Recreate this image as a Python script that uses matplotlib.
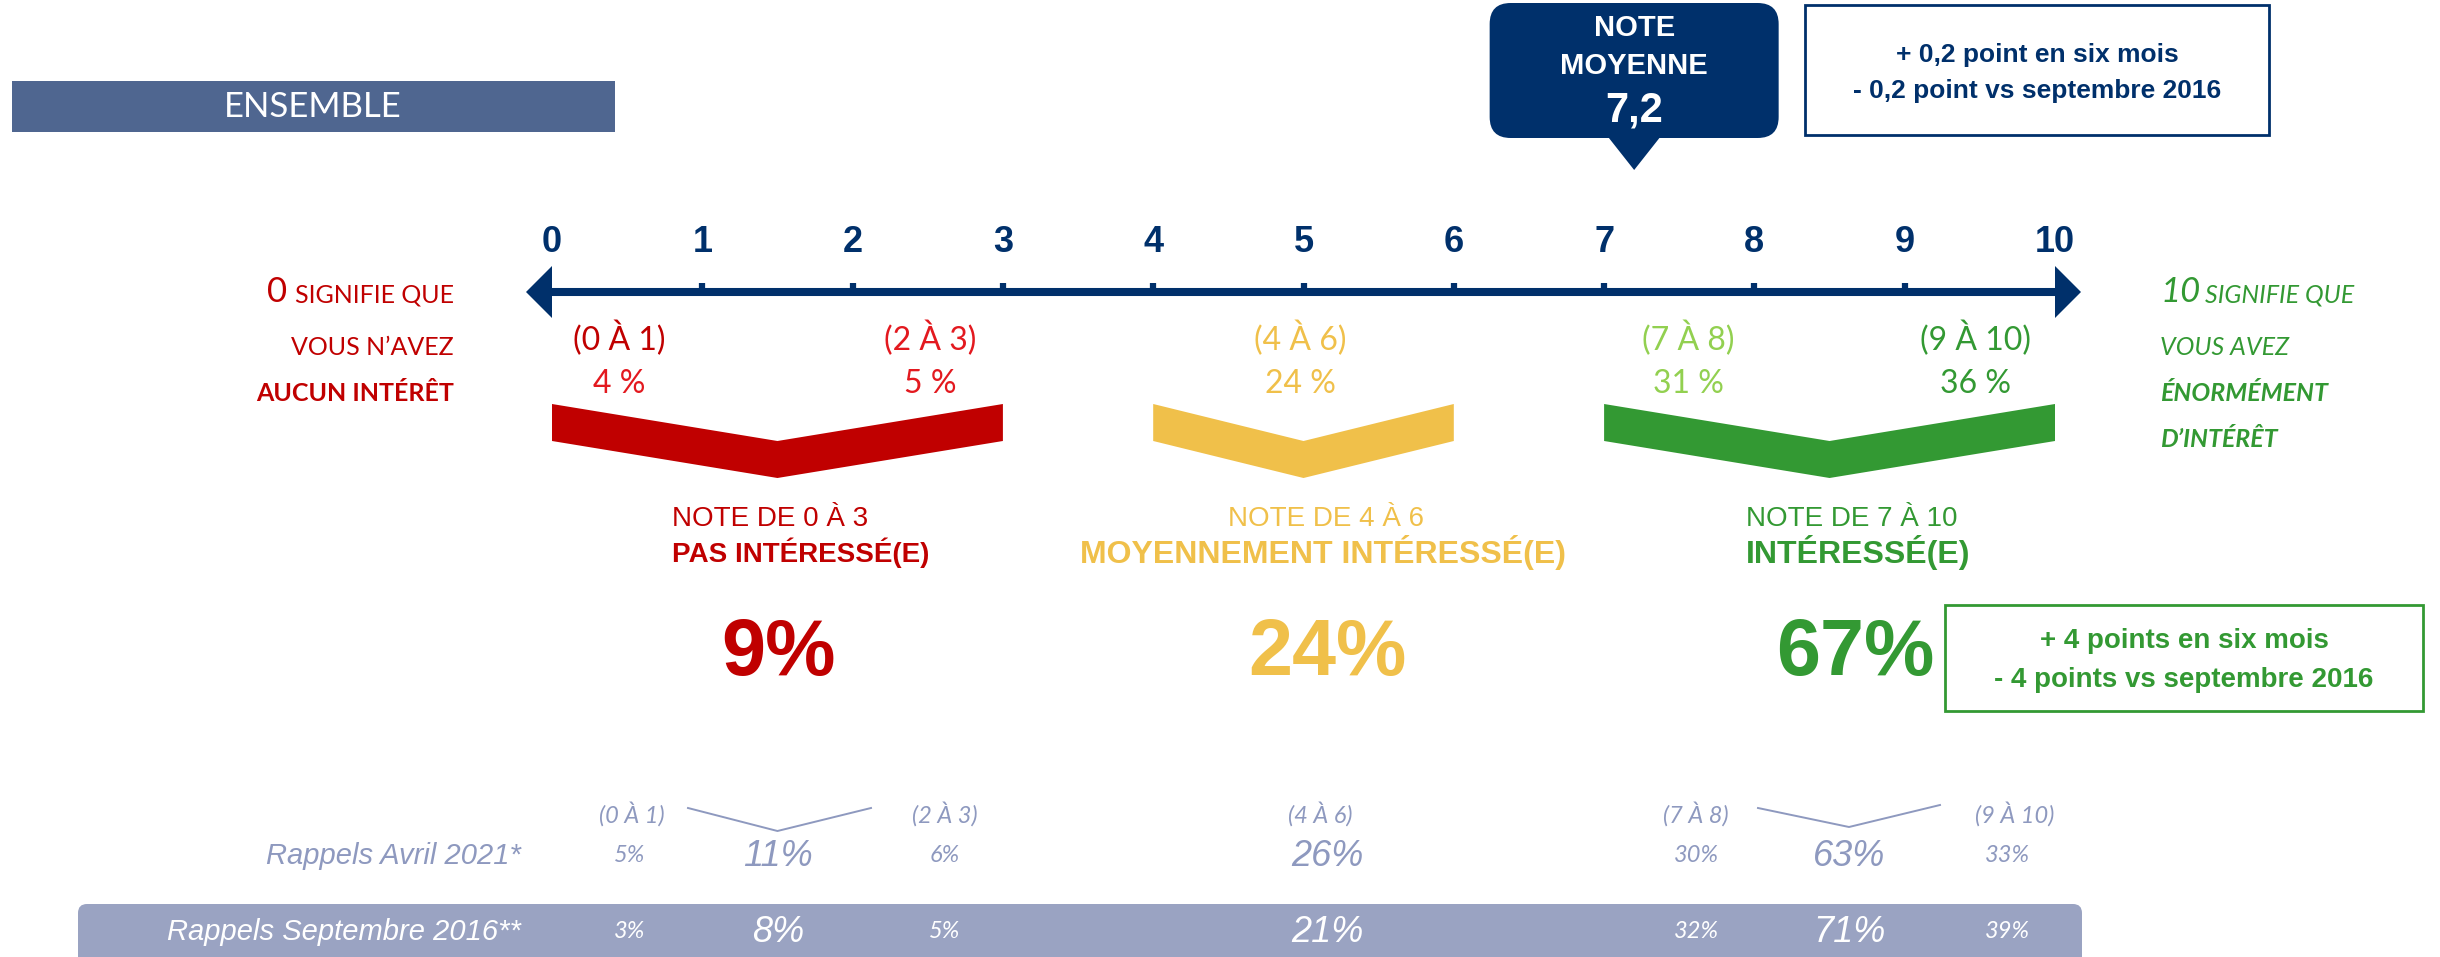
import matplotlib
matplotlib.use("Agg")
import matplotlib.pyplot as plt
from matplotlib.patches import Polygon, FancyBboxPatch, Rectangle

# ---------------- data ----------------
scale_ticks = list(range(11))
note_moyenne = 7.2
note_label = "7,2"
sub_range_labels = ["(0 À 1)", "(2 À 3)", "(4 À 6)", "(7 À 8)", "(9 À 10)"]
sub_pct_now = [4, 5, 24, 31, 36]
group_ranges = [(0, 3), (4, 6), (7, 10)]
group_titles = ["NOTE DE 0 À 3", "NOTE DE 4 À 6", "NOTE DE 7 À 10"]
group_names = ["PAS INTÉRESSÉ(E)", "MOYENNEMENT INTÉRESSÉ(E)", "INTÉRESSÉ(E)"]
group_pct_now = [9, 24, 67]
rappel_labels = ["Rappels Avril 2021*", "Rappels Septembre 2016**"]
rappel_2021_sub = [5, 6, 30, 33]      # (0-1), (2-3), (7-8), (9-10)
rappel_2021_group = [11, 26, 63]
rappel_2016_sub = [3, 5, 32, 39]
rappel_2016_group = [8, 21, 71]
note_evol = ["+ 0,2 point en six mois", "- 0,2 point vs septembre 2016"]
green_evol = ["+ 4 points en six mois", "- 4 points vs septembre 2016"]

# ---------------- styles / layout ----------------
NAVY = "#00306B"
ENS = "#4F6690"
RED = "#C00000"
RED2 = "#E3191F"
YEL = "#F0C04A"
GRN = "#339933"
GRN2 = "#92D050"
GREY = "#8E99BF"
BAR = "#9AA3C2"
ARIAL = "Liberation Sans"
CAL = "Lato"

PX0, UNIT = 552.0, 150.3     # full-pixel x of score 0 and pixels per score unit
W, H = 2440, 957


def sx(px):
    return (px - PX0) / UNIT


fig = plt.figure(figsize=(W / 100, H / 100), dpi=100)
ax = fig.add_axes([0, 0, 1, 1])
ax.set_xlim(sx(0), sx(W))
ax.set_ylim(H, 0)
ax.axis("off")

# ---------------- ENSEMBLE banner ----------------
ax.add_patch(Rectangle((sx(12), 81), sx(615) - sx(12), 51, color=ENS, lw=0))
ax.text(sx(313), 107, "ENSEMBLE", color="white", fontsize=25, family=CAL,
        ha="center", va="center")

# ---------------- note bubble ----------------
bw = (1782 - 1493) / UNIT
ax.add_patch(FancyBboxPatch((note_moyenne - bw / 2, 3), bw, 135,
                            boxstyle="round,pad=0,rounding_size=0.14",
                            mutation_aspect=UNIT, color=NAVY, lw=0))
ax.add_patch(Polygon([(note_moyenne - 0.21, 130), (note_moyenne + 0.21, 130),
                      (note_moyenne, 170)], closed=True, color=NAVY, lw=0))
ax.text(note_moyenne, 28, "NOTE", color="white", fontsize=21, weight="bold",
        family=ARIAL, ha="center", va="center")
ax.text(note_moyenne, 66, "MOYENNE", color="white", fontsize=21, weight="bold",
        family=ARIAL, ha="center", va="center")
ax.text(note_moyenne, 111, note_label, color="white", fontsize=30, weight="bold",
        family=ARIAL, ha="center", va="center")

# box with evolution of the mean
ax.add_patch(Rectangle((sx(1805), 5), sx(2269) - sx(1805), 130, fill=False,
                       ec=NAVY, lw=2))
for i, t in enumerate(note_evol):
    ax.text(sx(2037), 55 + 36 * i, t, color=NAVY, fontsize=19, weight="bold",
            family=ARIAL, ha="center", va="center")

# ---------------- axis ----------------
AY = 292
ax.plot([scale_ticks[0], scale_ticks[-1]], [AY, AY], color=NAVY, lw=5.8,
        solid_capstyle="butt")
ah_len, ah_h = 26 / UNIT, 26
ax.add_patch(Polygon([(scale_ticks[0] - ah_len, AY), (scale_ticks[0], AY - ah_h),
                      (scale_ticks[0], AY + ah_h)], closed=True, color=NAVY, lw=0))
ax.add_patch(Polygon([(scale_ticks[-1] + ah_len, AY), (scale_ticks[-1], AY - ah_h),
                      (scale_ticks[-1], AY + ah_h)], closed=True, color=NAVY, lw=0))
for t in scale_ticks:
    ax.text(t, 242, str(t), color=NAVY, fontsize=26, weight="bold",
            family=ARIAL, ha="center", va="center")
    if 0 < t < 10:
        ax.plot([t, t], [283, AY], color=NAVY, lw=4.5, solid_capstyle="butt")

# ---------------- end explanations ----------------
renderer = fig.canvas.get_renderer()
inv = ax.transData.inverted()


def width_data(txt):
    bb = txt.get_window_extent(renderer)
    return inv.transform((bb.x1, 0))[0] - inv.transform((bb.x0, 0))[0]


# left side (right aligned)
xr = sx(454)
t1 = ax.text(xr, 302, "SIGNIFIE QUE", color=RED, fontsize=18, family=CAL,
             ha="right", va="baseline")
ax.text(xr - width_data(t1) - 0.05, 302, "0", color=RED, fontsize=25,
        family=CAL, ha="right", va="baseline")
ax.text(xr, 355, "VOUS N’AVEZ", color=RED, fontsize=18, family=CAL,
        ha="right", va="baseline")
ax.text(xr, 401, "AUCUN INTÉRÊT", color=RED, fontsize=18, family=CAL,
        weight="bold", ha="right", va="baseline")

# right side (left aligned)
xl = sx(2160)
t2 = ax.text(xl, 302, "10", color=GRN, fontsize=25, family=CAL, style="italic",
             ha="left", va="baseline")
ax.text(xl + width_data(t2) + 0.03, 302, "SIGNIFIE QUE", color=GRN, fontsize=18,
        family=CAL, style="italic", ha="left", va="baseline")
ax.text(xl, 355, "VOUS AVEZ", color=GRN, fontsize=18, family=CAL, style="italic",
        ha="left", va="baseline")
ax.text(xl, 401, "ÉNORMÉMENT", color=GRN, fontsize=18, family=CAL,
        style="italic", weight="bold", ha="left", va="baseline")
ax.text(xl, 447, "D’INTÉRÊT", color=GRN, fontsize=18, family=CAL,
        style="italic", weight="bold", ha="left", va="baseline")

# ---------------- sub ranges ----------------
sub_x = [sx(619), sx(930), sx(1300), sx(1688), sx(1976)]
sub_cols_lab = [RED, RED2, YEL, GRN2, GRN]
sub_cols_val = [RED2, RED2, YEL, GRN2, GRN]
for x, lab, v, cl, cv in zip(sub_x, sub_range_labels, sub_pct_now,
                             sub_cols_lab, sub_cols_val):
    ax.text(x, 338, lab, color=cl, fontsize=23, family=CAL,
            ha="center", va="center")
    ax.text(x, 384, f"{v} %", color=cv, fontsize=23, family=CAL,
            ha="center", va="center")

# ---------------- chevrons ----------------
group_cols = [RED, YEL, GRN]
CT, TH = 404, 37
for (a, b), c in zip(group_ranges, group_cols):
    m = (a + b) / 2
    ax.add_patch(Polygon([(a, CT), (m, CT + TH), (b, CT), (b, CT + TH),
                          (m, CT + 2 * TH), (a, CT + TH)], closed=True,
                         color=c, lw=0))

# ---------------- group labels & big numbers ----------------
title_pos = [(sx(672), "left"), (sx(1326), "center"), (sx(1746), "left")]
name_pos = [(sx(672), "left"), (sx(1323), "center"), (sx(1746), "left")]
title_size = [20, 20, 20]
name_size = [20, 23, 23]
pct_x = [sx(778), sx(1327), sx(1855)]
for i in range(3):
    ax.text(title_pos[i][0], 519, group_titles[i], color=group_cols[i],
            fontsize=title_size[i], family=ARIAL, ha=title_pos[i][1],
            va="center")
    ax.text(name_pos[i][0], 553, group_names[i], color=group_cols[i],
            fontsize=name_size[i], weight="bold", family=ARIAL,
            ha=name_pos[i][1], va="center")
    ax.text(pct_x[i], 655, f"{group_pct_now[i]}%", color=group_cols[i],
            fontsize=57, weight="bold", family=ARIAL, ha="center",
            va="center")

# green evolution box
ax.add_patch(Rectangle((sx(1945), 605), sx(2423) - sx(1945), 106, fill=False,
                       ec=GRN, lw=2))
for i, t in enumerate(green_evol):
    ax.text(sx(2184), 641 + 39 * i, t, color=GRN, fontsize=20, weight="bold",
            family=ARIAL, ha="center", va="center")

# ---------------- rappels ----------------
rs_sub_lab_x = [sx(632), sx(945), sx(1320), sx(1696), sx(2015)]
for x, lab in zip(rs_sub_lab_x, sub_range_labels):
    ax.text(x, 814, lab, color=GREY, fontsize=17, family=CAL, style="italic",
            ha="center", va="center")
# small V connectors
ax.plot([sx(688), 1.5, sx(871)], [808, 831, 808], color=GREY, lw=1.4)
ax.plot([sx(1758), sx(1849), sx(1940)], [808, 827, 805], color=GREY, lw=1.4)

# Sept 2016 band
ax.add_patch(FancyBboxPatch((sx(78), 904), sx(2082) - sx(78), 80,
                            boxstyle="round,pad=0,rounding_size=0.06",
                            mutation_aspect=UNIT, color=BAR, lw=0))

sub_val_x = [sx(630), sx(945), sx(1696), sx(2007)]
grp_val_x = [sx(778), sx(1327), sx(1849)]
rows = [(856, GREY, rappel_2021_sub, rappel_2021_group),
        (932, "white", rappel_2016_sub, rappel_2016_group)]
for (y, col, subs, grps), lab in zip(rows, rappel_labels):
    ax.text(sx(521), y, lab, color=col, fontsize=21, family=ARIAL,
            style="italic", ha="right", va="center")
    for x, v in zip(sub_val_x, subs):
        ax.text(x, y, f"{v}%", color=col, fontsize=17, family=CAL,
                style="italic", ha="center", va="center")
    for x, v in zip(grp_val_x, grps):
        ax.text(x, y, f"{v}%", color=col, fontsize=26, family=ARIAL,
                style="italic", ha="center", va="center")

fig.savefig("out.png", dpi=100)
